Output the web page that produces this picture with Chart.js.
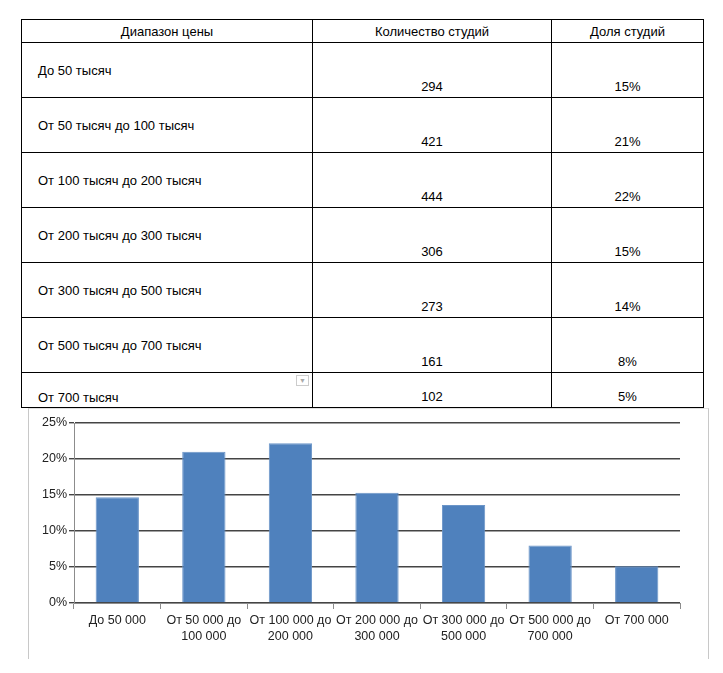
<!DOCTYPE html>
<html>
<head>
<meta charset="utf-8">
<script src="https://cdn.jsdelivr.net/npm/chart.js@4.4.1/dist/chart.umd.min.js"></script>
<style>
    body { margin: 0; background: #fff; width: 723px; height: 673px; position: relative; overflow: hidden; }
    #priceTable {
        position: absolute; left: 21px; top: 19px; width: 682px;
        border-collapse: collapse; table-layout: fixed;
        font-family: "Liberation Sans", Arial, sans-serif; font-size: 13px; color: #000;
    }
    #priceTable td, #priceTable th { border: 1px solid #000; padding: 0; font-weight: normal; box-sizing: border-box; }
    #priceTable th { height: 23px; text-align: center; }
    #priceTable td { height: 55px; }
    #priceTable td.name { padding-left: 16px; vertical-align: middle; }
    #priceTable td.num { text-align: center; vertical-align: bottom; }
    #priceTable td.num span { position: relative; top: -3px; }
    #priceTable tr.last td { height: 35px; }
    #priceTable tr.last td.name { vertical-align: bottom; position: relative; }
    #priceTable tr.last td.name span { position: relative; top: -2px; }
    .drop { position: absolute; right: 3px; top: 2px; width: 11px; height: 9px; border: 1px solid #ccc; color: #aaa; font-size: 7px; line-height: 9px; text-align: center; }
    #chartArea {
        position: absolute; left: 28px; top: 408px; width: 679px; height: 250px;
        background: #fff; border-left: 1px solid #c8c8c8; border-right: 1px solid #c8c8c8; border-top: 1px solid #e0e0e0;
    }
</style>
</head>
<body>
<table id="priceTable">
    <colgroup><col style="width:291px"><col style="width:239px"><col style="width:152px"></colgroup>
    <thead><tr><th>Диапазон цены</th><th>Количество студий</th><th>Доля студий</th></tr></thead>
    <tbody id="tableBody"></tbody>
</table>
<div id="chartArea"><canvas id="myChart"></canvas></div>
<script>
// table data
var rangeNames = ['До 50 тысяч', 'От 50 тысяч до 100 тысяч', 'От 100 тысяч до 200 тысяч',
    'От 200 тысяч до 300 тысяч', 'От 300 тысяч до 500 тысяч', 'От 500 тысяч до 700 тысяч', 'От 700 тысяч'];
var studioCounts = [294, 421, 444, 306, 273, 161, 102];
var studioShares = ['15%', '21%', '22%', '15%', '14%', '8%', '5%'];

// chart data
var categories = [['До 50 000'], ['От 50 000 до', '100 000'], ['От 100 000 до', '200 000'],
    ['От 200 000 до', '300 000'], ['От 300 000 до', '500 000'], ['От 500 000 до', '700 000'], ['От 700 000']];
var shareValues = [14.7, 21.0, 22.2, 15.3, 13.6, 8.0, 5.1];
var yTicks = [0, 5, 10, 15, 20, 25];

function fillTable() {
    var body = document.getElementById('tableBody');
    for (var i = 0; i < rangeNames.length; i++) {
        var tr = document.createElement('tr');
        if (i == rangeNames.length - 1) tr.className = 'last';
        var drop = (i == rangeNames.length - 1) ? '<div class="drop">&#9660;</div>' : '';
        tr.innerHTML = '<td class="name">' + drop + '<span>' + rangeNames[i] + '</span></td>' +
            '<td class="num"><span>' + studioCounts[i] + '</span></td>' +
            '<td class="num"><span>' + studioShares[i] + '</span></td>';
        body.appendChild(tr);
    }
}

function drawChart() {
    var data = {
        labels: categories,
        datasets: [{
            data: shareValues,
            backgroundColor: '#4f81bd',
            borderColor: '#6b95c8',
            borderWidth: 1,
            barPercentage: 0.5,
            categoryPercentage: 1.0
        }]
    };

    var config = {
        type: 'bar',
        data: data,
        options: {
            responsive: true,
            maintainAspectRatio: false,
            animation: false,
            layout: { padding: { left: 0, right: 28, top: 14, bottom: 0 } },
            plugins: { legend: { display: false }, tooltip: { enabled: false } },
            scales: {
                x: {
                    grid: { display: true, drawOnChartArea: false, drawTicks: true, tickLength: 6, color: '#8c8c8c', offset: true },
                    border: { color: '#8c8c8c', width: 1 },
                    ticks: { color: '#222', font: { family: 'Liberation Sans', size: 12.5, lineHeight: 1.3 }, maxRotation: 0, autoSkip: false, padding: 3 },
                    afterFit: function (scale) { scale.height = 56; }
                },
                y: {
                    min: 0,
                    max: 25,
                    afterBuildTicks: function (scale) {
                        scale.ticks = yTicks.map(function (v) { return { value: v }; });
                    },
                    grid: { color: '#444', lineWidth: 1.4, tickLength: 5, drawTicks: true },
                    border: { color: '#8c8c8c', width: 1 },
                    ticks: {
                        color: '#222', font: { family: 'Liberation Sans', size: 12.5 }, padding: 2,
                        callback: function (v) { return v + '%'; }
                    },
                    afterFit: function (scale) { scale.width = 45; }
                }
            }
        }
    };
    myChart = new Chart(document.getElementById('myChart'), config);
}

var myChart;
fillTable();
drawChart();
</script>
</body>
</html>
